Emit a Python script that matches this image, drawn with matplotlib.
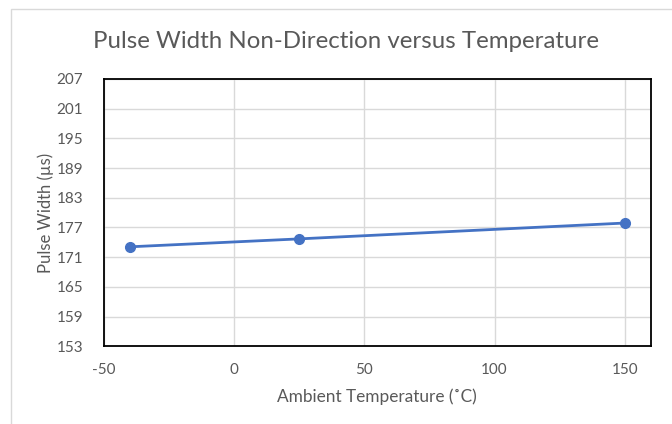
import matplotlib
matplotlib.use("Agg")
import matplotlib.pyplot as plt
from matplotlib.patches import Rectangle

temps = [-40, 25, 150]
pulse_width = [173.1, 174.7, 177.9]
x_ticks = [-50, 0, 50, 100, 150]
y_ticks = [153, 159, 165, 171, 177, 183, 189, 195, 201, 207]

plt.rcParams['font.family'] = ['Lato', 'DejaVu Sans']
plt.rcParams['axes.unicode_minus'] = False
W, H = 672, 424
fig = plt.figure(figsize=(W/100, H/100), dpi=100)
fig.patch.set_facecolor('white')
fig.add_artist(Rectangle((11/W, -0.1), 1.2, (H - 9)/H + 0.1, transform=fig.transFigure,
                         fill=False, edgecolor='#d9d9d9', linewidth=1.0))

ax = fig.add_axes([104/W, 1 - 346.3/H, (650.7 - 104)/W, (346.3 - 79)/H])
ax.plot(temps, pulse_width, color='#4472C4', linewidth=2.0, marker='o', markersize=7, zorder=3)
ax.set_xlim(-50, 160)
ax.set_ylim(153, 207)
ax.set_xticks(x_ticks)
ax.set_yticks(y_ticks)
ax.grid(True, color='#d9d9d9', linewidth=1.0)
ax.set_axisbelow(True)
for s in ax.spines.values():
    s.set_color('black')
    s.set_linewidth(1.3)
ax.tick_params(axis='y', length=0, labelsize=11, labelcolor='#595959', pad=15)
ax.tick_params(axis='x', length=0, labelsize=11, labelcolor='#595959', pad=12)
ax.set_xlabel('Ambient Temperature (˚C)', fontsize=12.4, color='#595959', labelpad=8)
ax.set_ylabel('Pulse Width (µs)', fontsize=12, color='#595959', labelpad=2)
fig.text(346/W, 1 - 42/H, 'Pulse Width Non-Direction versus Temperature', ha='center', va='center',
         fontsize=17.3, color='#595959')
fig.savefig('out.png', dpi=100)
